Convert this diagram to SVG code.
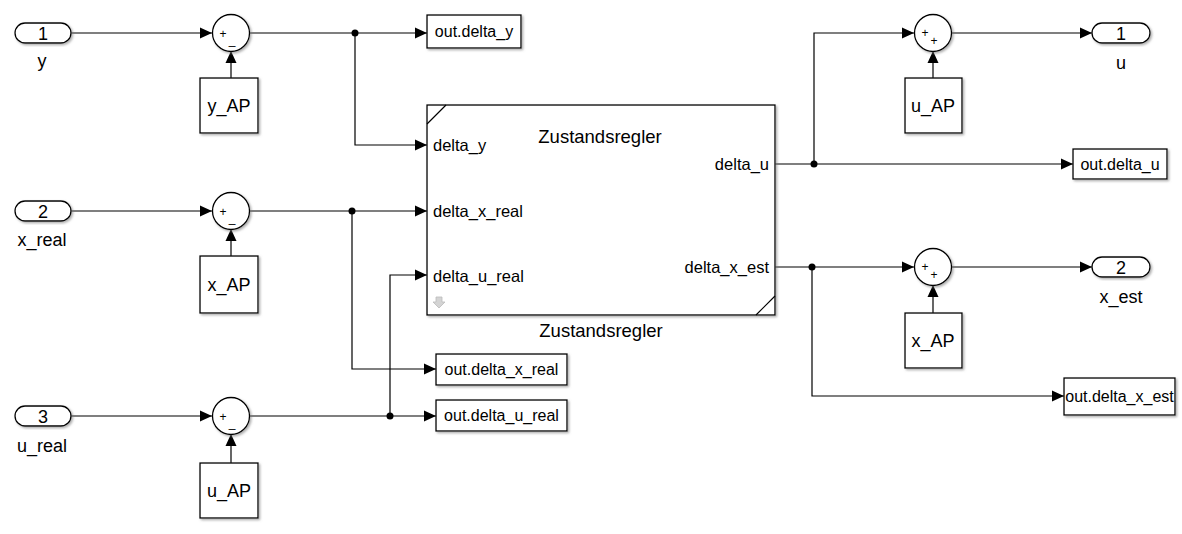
<svg xmlns="http://www.w3.org/2000/svg" width="1182" height="534" viewBox="0 0 1182 534">
<style>
text{font-family:"Liberation Sans",Arial,sans-serif;fill:#000}
.blk{fill:#fff;stroke:#000;stroke-width:1.3;filter:url(#sh)}
.ln{fill:none;stroke:#000;stroke-width:1.2}
.arr{marker-end:url(#ah)}
.lbl{font-size:18px;text-anchor:middle}
.out{font-size:16px;text-anchor:middle}
.port{font-size:16.5px}
.sg{font-size:12px;text-anchor:middle}
.dot{fill:#000}
</style>
<defs>
<marker id="ah" markerUnits="userSpaceOnUse" markerWidth="12" markerHeight="12" refX="12" refY="6" orient="auto">
<path d="M0,0.5 L12,6 L0,11.5 z" fill="#000"/>
</marker>
<filter id="sh" x="-10%" y="-10%" width="130%" height="130%">
<feDropShadow dx="1.5" dy="1.5" stdDeviation="1" flood-color="#777" flood-opacity="0.6"/>
</filter>
</defs>
<rect width="1182" height="534" fill="#fff"/>

<g id="connectors">
<path class="ln arr" d="M71,33 H212"/>
<path class="ln arr" d="M231,78 V51"/>
<path class="ln arr" d="M249,33 H427"/>
<path class="ln arr" d="M355,33 V145 H427"/>
<path class="ln arr" d="M71,211 H212"/>
<path class="ln arr" d="M231,256 V229"/>
<path class="ln arr" d="M249,211 H427"/>
<path class="ln arr" d="M352,211 V369 H436"/>
<path class="ln arr" d="M71,416 H212"/>
<path class="ln arr" d="M231,463 V434"/>
<path class="ln arr" d="M249,416 H436"/>
<path class="ln arr" d="M390,416 V275 H427"/>
<path class="ln arr" d="M775,164 H1073"/>
<path class="ln arr" d="M814,164 V33 H914"/>
<path class="ln arr" d="M933,78 V51"/>
<path class="ln arr" d="M951,33 H1092"/>
<path class="ln arr" d="M775,267 H914"/>
<path class="ln arr" d="M812,267 V396 H1064"/>
<path class="ln arr" d="M933,313 V285"/>
<path class="ln arr" d="M951,267 H1092"/>
<circle class="dot" cx="355" cy="33" r="3.5"/>
<circle class="dot" cx="352" cy="211" r="3.5"/>
<circle class="dot" cx="390" cy="416" r="3.5"/>
<circle class="dot" cx="814" cy="164" r="3.5"/>
<circle class="dot" cx="812" cy="267" r="3.5"/>
</g>

<g id="in1"><rect class="blk" x="15" y="23" width="56" height="20" rx="10"/><text class="lbl" x="43" y="39.5">1</text><text class="lbl" x="42" y="67">y</text></g>
<g id="in2"><rect class="blk" x="15" y="201" width="56" height="20" rx="10"/><text class="lbl" x="43" y="217.5">2</text><text class="lbl" x="42" y="246">x_real</text></g>
<g id="in3"><rect class="blk" x="15" y="406" width="56" height="20" rx="10"/><text class="lbl" x="43" y="422.5">3</text><text class="lbl" x="42" y="452">u_real</text></g>

<g id="sum1"><circle class="blk" cx="231" cy="33" r="18.5"/><text class="sg" x="223" y="37.5">+</text><text class="sg" x="232" y="44">_</text></g>
<g id="sum2"><circle class="blk" cx="231" cy="211" r="18.5"/><text class="sg" x="223" y="215.5">+</text><text class="sg" x="232" y="222">_</text></g>
<g id="sum3"><circle class="blk" cx="231" cy="416" r="18.5"/><text class="sg" x="223" y="420.5">+</text><text class="sg" x="232" y="427">_</text></g>
<g id="sum4"><circle class="blk" cx="933" cy="33" r="18.5"/><text class="sg" x="925" y="37">+</text><text class="sg" x="934" y="45">+</text></g>
<g id="sum5"><circle class="blk" cx="933" cy="267" r="18.5"/><text class="sg" x="925" y="271">+</text><text class="sg" x="934" y="279">+</text></g>

<g id="yAP"><rect class="blk" x="200" y="78" width="58" height="55"/><text class="lbl" x="229" y="112">y_AP</text></g>
<g id="xAP1"><rect class="blk" x="200" y="256" width="58" height="57"/><text class="lbl" x="229" y="291">x_AP</text></g>
<g id="uAP1"><rect class="blk" x="200" y="463" width="58" height="55"/><text class="lbl" x="229" y="497">u_AP</text></g>
<g id="uAP2"><rect class="blk" x="905" y="78" width="57" height="55"/><text class="lbl" x="933" y="112">u_AP</text></g>
<g id="xAP2"><rect class="blk" x="905" y="313" width="57" height="55"/><text class="lbl" x="933" y="347">x_AP</text></g>

<g id="outDeltaY"><rect class="blk" x="427" y="15" width="94" height="33"/><text class="out" x="474" y="37">out.delta_y</text></g>
<g id="outDeltaXReal"><rect class="blk" x="436" y="354" width="131" height="31"/><text class="out" x="501.5" y="375">out.delta_x_real</text></g>
<g id="outDeltaUReal"><rect class="blk" x="436" y="400" width="131" height="31"/><text class="out" x="501.5" y="421">out.delta_u_real</text></g>
<g id="outDeltaU"><rect class="blk" x="1073" y="149" width="94" height="30"/><text class="out" x="1120" y="169.5">out.delta_u</text></g>
<g id="outDeltaXEst"><rect class="blk" x="1064" y="378" width="111" height="37"/><text class="out" x="1119.5" y="402">out.delta_x_est</text></g>

<g id="outU"><rect class="blk" x="1092" y="23" width="58" height="20" rx="10"/><text class="lbl" x="1121" y="39.5">1</text><text class="lbl" x="1121" y="69">u</text></g>
<g id="outXEst"><rect class="blk" x="1092" y="257" width="58" height="20" rx="10"/><text class="lbl" x="1121" y="273.5">2</text><text class="lbl" x="1121" y="303">x_est</text></g>

<g id="zustandsregler">
<rect class="blk" x="427" y="105" width="348" height="210"/>
<path class="ln" d="M427,124 L446,105 M756,315 L775,296"/>
<path d="M436,297 h6 v5 h3 l-6,6 l-6,-6 h3 z" fill="#d4d4d4" stroke="#bbb" stroke-width="0.8"/>
<text x="600" y="143" style="font-size:18.5px;text-anchor:middle">Zustandsregler</text>
<text class="port" x="433" y="151">delta_y</text>
<text class="port" x="433" y="217">delta_x_real</text>
<text class="port" x="433" y="282">delta_u_real</text>
<text class="port" x="769" y="170" text-anchor="end">delta_u</text>
<text class="port" x="769" y="273" text-anchor="end">delta_x_est</text>
<text x="601" y="337" style="font-size:18.5px;text-anchor:middle">Zustandsregler</text>
</g>
</svg>
